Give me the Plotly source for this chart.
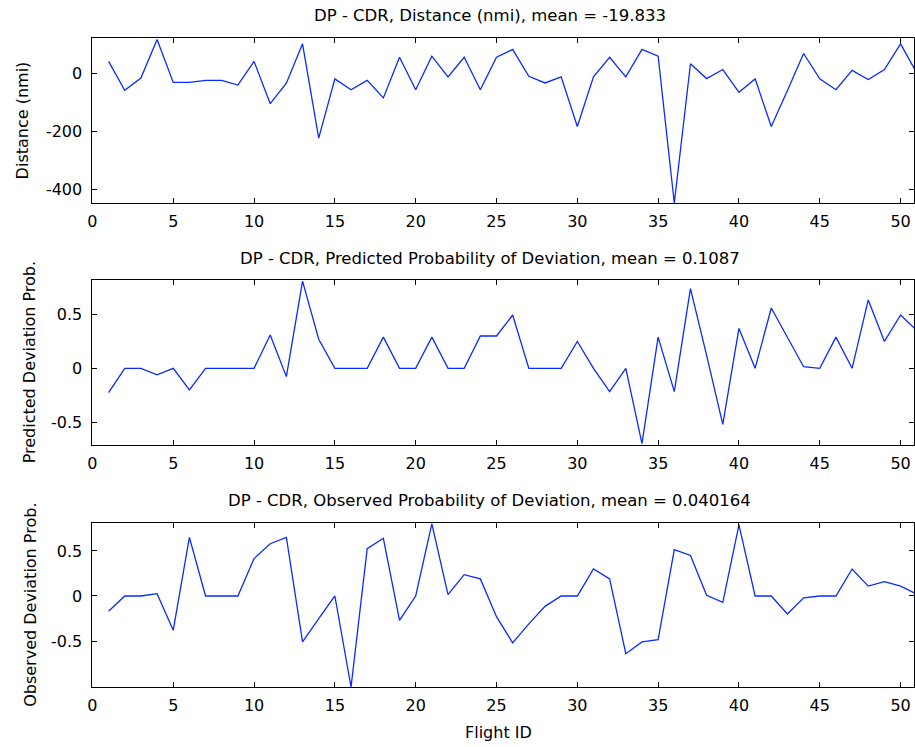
import plotly.graph_objects as go

flight_id = list(range(1, 52))

distance_nmi = [40, -59, -17, 115, -32, -32, -25, -25, -41, 40,
                -105, -35, 100, -223, -20, -57, -25, -85, 54, -57,
                58, -13, 54, -57, 54, 81, -11, -34, -13, -183,
                -13, 54, -13, 81, 58, -445, 32, -19, 12, -66,
                -20, -183, -60, 67, -20, -57, 9, -22, 12, 100,
                0]

predicted_prob = [-0.226, 0, 0, -0.06, 0, -0.2, 0, 0, 0, 0,
                  0.31, -0.077, 0.81, 0.27, 0, 0, 0, 0.29, 0, 0,
                  0.29, 0, 0, 0.30, 0.30, 0.495, 0, 0, 0, 0.25,
                  0.0, -0.217, 0, -0.70, 0.29, -0.217, 0.74, 0.12, -0.52, 0.37,
                  0, 0.56, 0.29, 0.015, 0, 0.29, 0, 0.635, 0.25, 0.495,
                  0.35]

observed_prob = [-0.17, 0, 0, 0.026, -0.38, 0.65, 0, 0, 0, 0.415,
                 0.58, 0.65, -0.51, -0.25, 0, -1.01, 0.525, 0.64, -0.27, 0,
                 0.80, 0.015, 0.237, 0.19, -0.23, -0.52, -0.31, -0.115, 0, 0,
                 0.30, 0.19, -0.64, -0.51, -0.485, 0.515, 0.45, 0.007, -0.07, 0.79,
                 0, 0, -0.2, -0.02, 0, 0, 0.30, 0.11, 0.16, 0.11,
                 0.02]

titles = ["DP - CDR, Distance (nmi), mean = -19.833",
          "DP - CDR, Predicted Probability of Deviation, mean = 0.1087",
          "DP - CDR, Observed Probability of Deviation, mean = 0.040164"]
ylabels = ["Distance (nmi)", "Predicted Deviation Prob.", "Observed Deviation Prob."]
x_ticks = [0, 5, 10, 15, 20, 25, 30, 35, 40, 45, 50]
y_ticks = [[-400, -200, 0], [-0.5, 0, 0.5], [-0.5, 0, 0.5]]
y_ticktext = [["-400", "-200", "0"], ["-0.5", "0", "0.5"], ["-0.5", "0", "0.5"]]
y_ranges = [[-445, 120], [-0.712, 0.82], [-1.01, 0.81]]

W, H = 915, 747
FONT = "DejaVu Sans"
FS = 16
# pixel layout of each axes box (top, bottom)
boxes = [(38, 203), (280, 445), (523, 687)]
title_y = [15, 258, 500]
ylabel_x = [18, 25, 25]
x_left = 88

series = [distance_nmi, predicted_prob, observed_prob]

fig = go.Figure()
layout = dict(
    width=W, height=H,
    margin=dict(l=0, r=0, t=0, b=0),
    paper_bgcolor="white", plot_bgcolor="white",
    showlegend=False,
    font=dict(family=FONT, size=FS, color="black"),
)
annotations = []
for i in range(3):
    n = "" if i == 0 else str(i + 1)
    fig.add_trace(go.Scatter(x=flight_id, y=series[i], mode="lines",
                             line=dict(color="#0a2aff", width=1.3),
                             xaxis="x" + n, yaxis="y" + n))
    top, bot = boxes[i]
    layout["xaxis" + n] = dict(
        domain=[x_left / W, 1], range=[0, 50.83], anchor="y" + n,
        tickvals=x_ticks, ticks="inside", ticklen=5, tickcolor="black",
        showline=True, linecolor="black", linewidth=1, mirror="ticks",
        showgrid=False, zeroline=False, tickfont=dict(size=FS),
        ticklabelstandoff=4,
    )
    layout["yaxis" + n] = dict(
        domain=[(H - bot) / H, (H - top) / H], range=y_ranges[i], anchor="x" + n,
        tickvals=y_ticks[i], ticktext=y_ticktext[i], ticks="inside", ticklen=5,
        tickcolor="black", showline=True, linecolor="black", linewidth=1,
        mirror="ticks", showgrid=False, zeroline=False, tickfont=dict(size=FS),
        ticklabelstandoff=6,
    )
    annotations.append(dict(text=titles[i], x=488 / W, y=(H - title_y[i]) / H,
                            xref="paper", yref="paper", xanchor="center",
                            yanchor="middle", showarrow=False,
                            font=dict(size=16.5)))
    annotations.append(dict(text=ylabels[i], x=ylabel_x[i] / W,
                            y=(H - (top + bot) / 2) / H,
                            xref="paper", yref="paper", xanchor="center",
                            yanchor="middle", textangle=-90, showarrow=False,
                            font=dict(size=FS)))
annotations.append(dict(text="Flight ID", x=497 / W, y=(H - 732) / H,
                        xref="paper", yref="paper", xanchor="center",
                        yanchor="middle", showarrow=False, font=dict(size=FS)))
layout["annotations"] = annotations
fig.update_layout(**layout)
fig.write_html("out.html")
